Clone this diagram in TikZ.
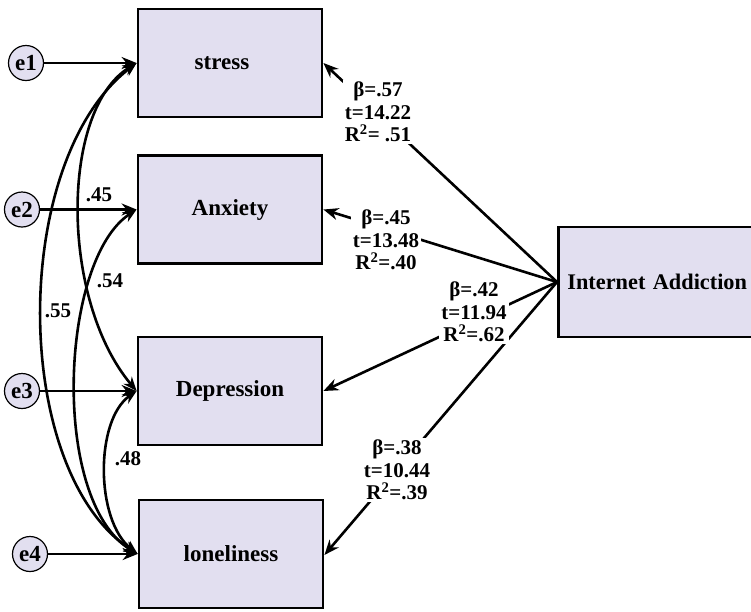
\documentclass[tikz,border=0pt]{standalone}
\usepackage{fontspec}
\setmainfont{Liberation Serif}
\usetikzlibrary{arrows.meta}
\definecolor{boxfill}{RGB}{226,223,240}
\begin{document}
\begin{tikzpicture}[x=1pt,y=-1pt,
  varbox/.style={draw=black, line width=2.8pt, fill=boxfill, minimum width=184pt, minimum height=108pt, inner sep=0pt, font=\fontsize{23}{27}\selectfont\bfseries},
  errnode/.style={circle, draw=black, line width=1.2pt, fill=boxfill, minimum size=35pt, inner sep=0pt, font=\fontsize{23}{26}\selectfont\bfseries},
  coef/.style={fill=white, inner sep=2pt, align=center, font=\fontsize{21}{22.5}\selectfont\bfseries},
  corr/.style={inner sep=0pt, font=\fontsize{21}{24}\selectfont\bfseries},
  regline/.style={line width=2.6pt, -{Stealth[length=15pt,width=12pt]}},
  covline/.style={line width=2.6pt, {Stealth[length=14pt,width=11pt]}-{Stealth[length=14pt,width=11pt]}},
  errline/.style={line width=2.4pt, -{Stealth[length=15pt,width=12pt]}}
]
\useasboundingbox (0,0) rectangle (751,611);
\clip (0,0) rectangle (751,611);

% observed variables
\node[varbox] (stress) at (230,63) {\hspace*{-16pt}stress};
\node[varbox] (anx) at (230,209.5) {Anxiety};
\node[varbox] (dep) at (230,391) {Depression};
\node[varbox] (lone) at (231,554) {loneliness};
\node[varbox, anchor=west, minimum width=213pt, minimum height=110pt, inner xsep=9pt, text width=195pt, align=left, font=\fontsize{22.3}{27}\selectfont\bfseries] (ia) at (557,282) {Internet Addiction};

% error terms
\node[errnode] (e1) at (26,63) {e1};
\node[errnode] (e2) at (22,209.5) {e2};
\node[errnode] (e3) at (22,391) {e3};
\node[errnode] (e4) at (30,554) {e4};

\draw[errline] (e1) -- (stress.west);
\draw[errline] (e2) -- (anx.west);
\draw[errline] (e3) -- (dep.west);
\draw[errline] (e4) -- (lone.west);

% covariances
\draw[covline] (stress.west) .. controls (10,160) and (10,470) .. (lone.west);
\draw[covline] (stress.west) .. controls (60,110) and (60,300) .. (dep.west);
\draw[covline] (anx.west) .. controls (60,260) and (50,500) .. (lone.west);
\draw[covline] (dep.west) .. controls (95,420) and (95,520) .. (lone.west);

\node[corr] (c45) at (99,195) {.45};
\node[corr] (c54) at (110,281) {.54};
\node[corr] (c55) at (58,311) {.55};
\node[corr] (c48) at (128,459) {.48};

% regression paths
\coordinate (iaw) at (ia.west);
\draw[regline] (iaw) -- (stress.east);
\draw[regline] (iaw) -- (anx.east);
\draw[regline] (iaw) -- (dep.east);
\draw[regline] (iaw) -- ([yshift=-1pt]lone.east);

\node[coef] (l1) at (378,112) {β=.57\\t=14.22\\R\textsuperscript{2}= .51};
\node[coef] (l2) at (386,240) {β=.45\\t=13.48\\R\textsuperscript{2}=.40};
\node[coef] (l3) at (474,312) {β=.42\\t=11.94\\R\textsuperscript{2}=.62};
\node[coef] (l4) at (397,470) {β=.38\\t=10.44\\R\textsuperscript{2}=.39};
\end{tikzpicture}
\end{document}
